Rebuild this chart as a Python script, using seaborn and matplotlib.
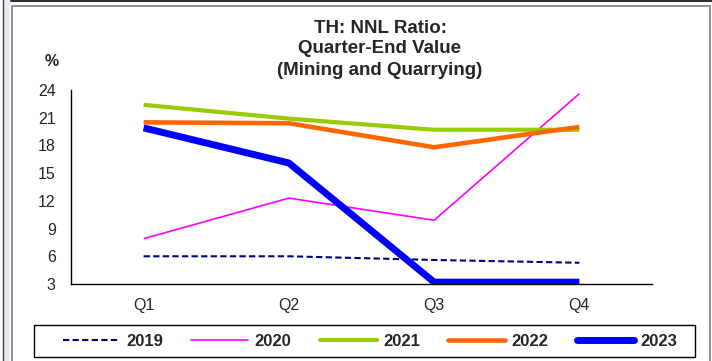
import numpy as np
import pandas as pd
import matplotlib
matplotlib.use("Agg")
import matplotlib.pyplot as plt
from matplotlib.patches import Rectangle
from matplotlib.lines import Line2D
import seaborn as sns

quarters = ["Q1", "Q2", "Q3", "Q4"]
years = ["2019", "2020", "2021", "2022", "2023"]
v2019 = [6.0, 6.0, 5.6, 5.3]
v2020 = [7.9, 12.3, 9.9, 23.6]
v2021 = [22.4, 20.9, 19.7, 19.7]
v2022 = [20.5, 20.4, 17.8, 20.0]
v2023 = [19.9, 16.1, 3.2, 3.2]
title_lines = ["TH: NNL Ratio:", "Quarter-End Value", "(Mining and Quarrying)"]

colors = {"2019": "#000080", "2020": "#ff00ff", "2021": "#99cc00",
          "2022": "#ff6600", "2023": "#0000ff"}
widths = {"2019": 1.5, "2020": 1.2, "2021": 3.0, "2022": 3.3, "2023": 5.0}
styles = {"2019": (0, (3, 1.6)), "2020": "-", "2021": "-", "2022": "-", "2023": "-"}

df = pd.DataFrame({
    "quarter": quarters * 5,
    "x": list(range(4)) * 5,
    "year": sum([[y] * 4 for y in years], []),
    "value": v2019 + v2020 + v2021 + v2022 + v2023,
})

sns.set_style("white")
plt.rcParams["font.family"] = ["Liberation Sans", "DejaVu Sans"]

W, H = 712, 361
fig = plt.figure(figsize=(W / 100, H / 100), dpi=100)
ax = fig.add_axes([71 / W, 1 - 284 / H, (652 - 71) / W, (284 - 90) / H])

for y in years:
    sub = df[df["year"] == y]
    sns.lineplot(data=sub, x="x", y="value", ax=ax, color=colors[y],
                 linewidth=widths[y], linestyle=styles[y], legend=False,
                 solid_capstyle="butt", dash_capstyle="butt")

ax.set_xlim(-0.5, 3.5)
ax.set_ylim(3, 24)
ax.set_yticks(range(3, 25, 3))
ax.set_xticks(np.arange(-0.5, 3.6, 1))
ax.set_xticklabels([])
ax.set_xticks(range(4), minor=True)
ax.set_xticklabels(quarters, minor=True)
ax.tick_params(axis="x", which="major", length=5, width=1, color="black", direction="out")
ax.tick_params(axis="x", which="minor", length=0, pad=10, labelsize=11.5)
ax.tick_params(axis="y", length=5, width=1, color="black", direction="out", labelsize=11.5, pad=6)
ax.set_xlabel("")
ax.set_ylabel("")
for s in ["top", "right"]:
    ax.spines[s].set_visible(False)
for s in ["left", "bottom"]:
    ax.spines[s].set_color("black")
    ax.spines[s].set_linewidth(1)

# title, one line at a time (baselines)
for line, base in zip(title_lines, [33, 53, 75]):
    fig.text(380 / W, 1 - base / H, line, ha="center", va="baseline",
             fontsize=13.5, fontweight="bold")
fig.text(52 / W, 1 - 62 / H, "%", ha="center", va="center", fontsize=11.5, fontweight="bold")

handles = [Line2D([], [], color=colors[y], linewidth=widths[y], linestyle=styles[y],
                  solid_capstyle="round") for y in years]
leg = fig.legend(handles, years, loc="center", ncol=5,
                 bbox_to_anchor=(370 / W, 1 - 341 / H), frameon=False,
                 prop={"weight": "bold", "size": 12}, handlelength=3.4,
                 columnspacing=1.7, handletextpad=0.4)
fig.patches.append(Rectangle((34 / W, 1 - 357 / H), (695 - 34) / W, 32 / H,
                             transform=fig.transFigure, fill=False,
                             edgecolor="black", linewidth=1))

# outer chart frame
fig.patches.append(Rectangle((12 / W, -0.1), (710 - 12) / W, 1.1 - 6 / H,
                             transform=fig.transFigure, fill=False,
                             edgecolor="#808080", linewidth=1.2))
fig.patches.append(Rectangle((4 / W, -0.1), 6 / W, 1.2, transform=fig.transFigure,
                             facecolor="#e9ebf2", edgecolor="none"))
fig.lines.append(Line2D([3 / W, 3 / W], [0, 1], transform=fig.transFigure,
                        color="#404040", linewidth=1))
fig.lines.append(Line2D([11 / W, 1], [1 - 0.5 / H, 1 - 0.5 / H], transform=fig.transFigure,
                        color="#303030", linewidth=1.5))

fig.savefig("out.png", dpi=100, facecolor="white")
